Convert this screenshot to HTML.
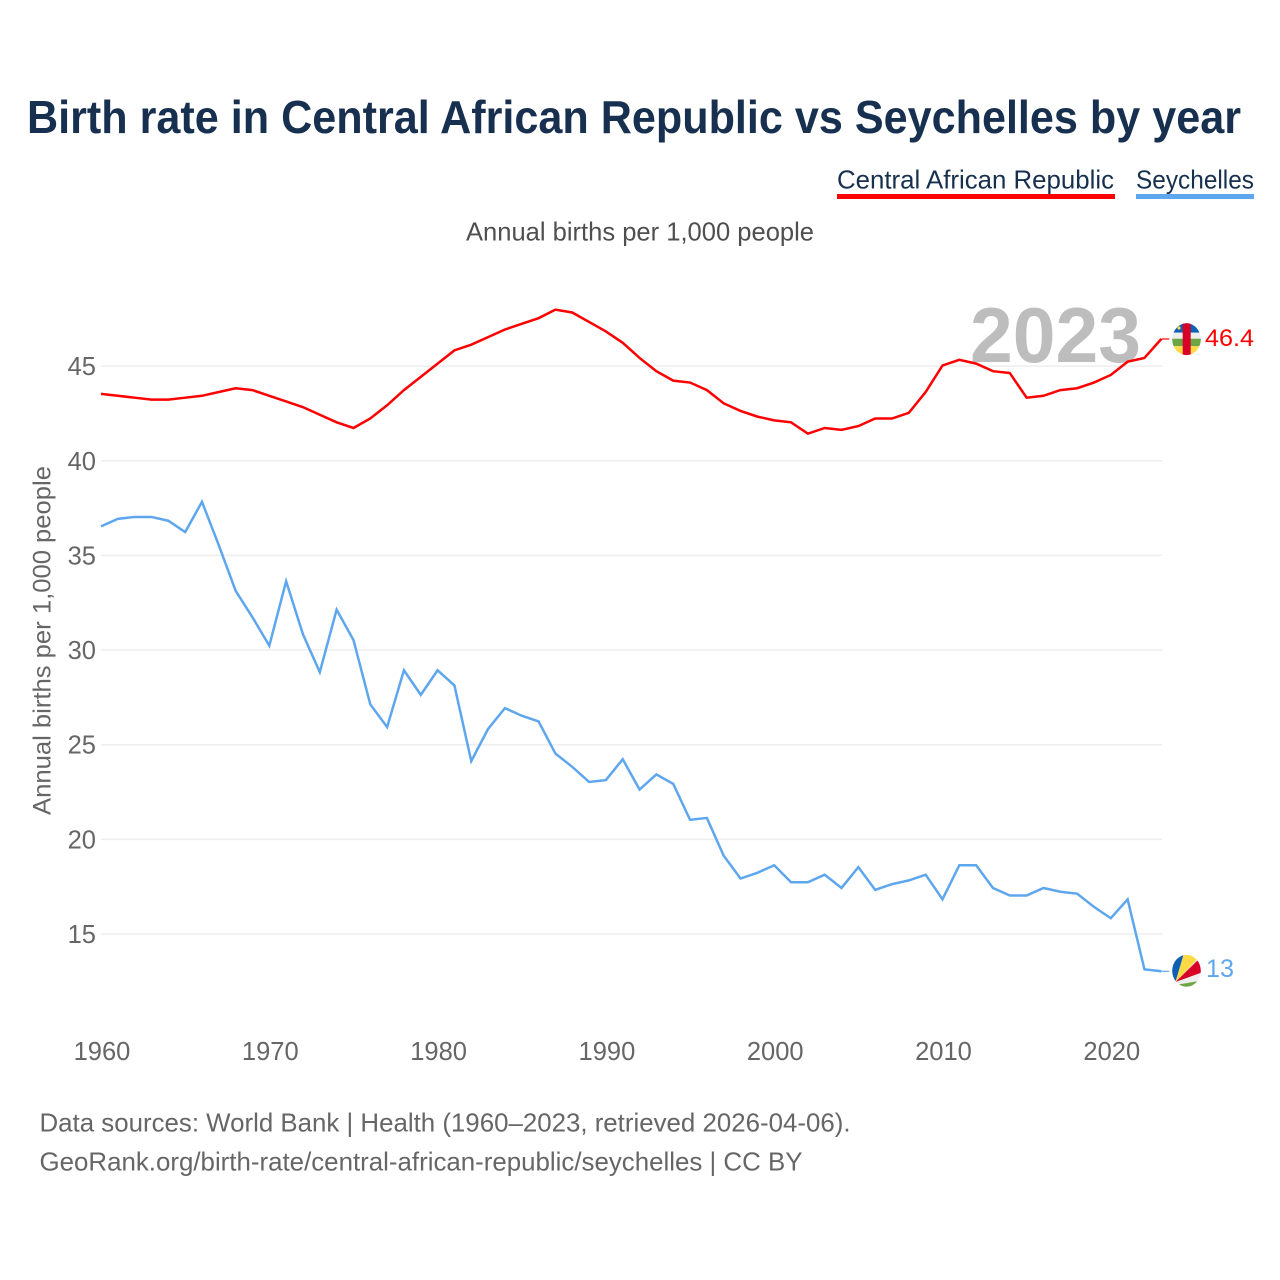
<!DOCTYPE html>
<html lang="en">
<head>
<meta charset="utf-8">
<title>Birth rate in Central African Republic vs Seychelles by year</title>
<style>
html,body{margin:0;padding:0;background:#fff;width:1280px;height:1280px;overflow:hidden}
svg{display:block}
text{font-family:"Liberation Sans",sans-serif}
</style>
</head>
<body>
<svg id="chart" xmlns="http://www.w3.org/2000/svg" width="1280" height="1280" viewBox="0 0 1280 1280">
  <defs>
    <clipPath id="car-clip"><ellipse cx="1186.5" cy="339.2" rx="14.3" ry="15.9"/></clipPath>
    <clipPath id="sey-clip"><ellipse cx="1186.5" cy="970.8" rx="14.3" ry="15.9"/></clipPath>
  </defs>
  <text x="27" y="133" font-size="46" font-weight="700" fill="#18304f" textLength="1214" lengthAdjust="spacingAndGlyphs">Birth rate in Central African Republic vs Seychelles by year</text>
  <g>
    <g>
      <text x="837" y="188.5" font-size="26" fill="#18304f" textLength="277" lengthAdjust="spacingAndGlyphs">Central African Republic</text>
      <rect x="837" y="194" width="278" height="5" fill="#ff0000"/>
    </g>
    <g>
      <text x="1136" y="188.5" font-size="26" fill="#18304f" textLength="118" lengthAdjust="spacingAndGlyphs">Seychelles</text>
      <rect x="1136" y="194" width="118" height="5" fill="#5ea6ee"/>
    </g>
  </g>
  <text x="466" y="240.5" font-size="26" fill="#4f4f4f" textLength="348" lengthAdjust="spacingAndGlyphs">Annual births per 1,000 people</text>
  <g id="grid"></g>
  <g id="yticks"></g>
  <g id="xticks"></g>
  <text transform="translate(50.5,815) rotate(-90)" x="0" y="0" font-size="25" fill="#666" textLength="349" lengthAdjust="spacingAndGlyphs">Annual births per 1,000 people</text>
  <text id="year-label" x="970" y="362" font-size="78" font-weight="700" fill="#bdbdbd" textLength="171" lengthAdjust="spacingAndGlyphs">2023</text>
  <g id="series" transform="translate(0,-0.6)"></g>
  <g clip-path="url(#car-clip)">
    <rect x="1170" y="322" width="33" height="10.7" fill="#0f5fb5"/>
    <rect x="1170" y="332.7" width="33" height="6" fill="#eeeeee"/>
    <rect x="1170" y="338.7" width="33" height="7.5" fill="#6da544"/>
    <rect x="1170" y="346.2" width="33" height="10" fill="#ffda44"/>
    <rect x="1182.7" y="322" width="8" height="34" fill="#d80027"/>
    <circle cx="1179" cy="328" r="1.6" fill="#ffda44"/>
  </g>
  <g clip-path="url(#sey-clip)">
    <rect x="1170" y="953" width="33" height="36" fill="#eeeeee"/>
    <polygon points="1175.5,982 1165,975 1165,950 1185,950" fill="#0f5fb5"/>
    <polygon points="1175.5,982 1185,950 1206,950" fill="#ffda44"/>
    <polygon points="1175.5,982 1204,954 1206,971" fill="#d80027"/>
    <polygon points="1175.5,985 1205,980 1205,995 1170,995" fill="#6da544"/>
  </g>
  <text id="car-value" x="1205" y="346" font-size="24" fill="#ff0000" textLength="49" lengthAdjust="spacingAndGlyphs"></text>
  <text id="sey-value" x="1206" y="977" font-size="25" fill="#5ea6ee" textLength="28" lengthAdjust="spacingAndGlyphs"></text>
  <text x="39.5" y="1131.5" font-size="26" fill="#666" textLength="811" lengthAdjust="spacingAndGlyphs">Data sources: World Bank | Health (1960–2023, retrieved 2026-04-06).</text>
  <text x="39.5" y="1170.5" font-size="26" fill="#666" textLength="763" lengthAdjust="spacingAndGlyphs">GeoRank.org/birth-rate/central-african-republic/seychelles | CC BY</text>
</svg>
<script>
const startYear = 1960;
const yTickValues = [15, 20, 25, 30, 35, 40, 45];
const xTickValues = [1960, 1970, 1980, 1990, 2000, 2010, 2020];
const carValues = [43.5,43.4,43.3,43.2,43.2,43.3,43.4,43.6,43.8,43.7,43.4,43.1,42.8,42.4,42.0,41.7,42.2,42.9,43.7,44.4,45.1,45.8,46.1,46.5,46.9,47.2,47.5,47.95,47.8,47.3,46.8,46.2,45.4,44.7,44.2,44.1,43.7,43.0,42.6,42.3,42.1,42.0,41.4,41.7,41.6,41.8,42.2,42.2,42.5,43.6,45.0,45.3,45.1,44.7,44.6,43.3,43.4,43.7,43.8,44.1,44.5,45.2,45.4,46.4];
const seyValues = [36.5,36.9,37.0,37.0,36.8,36.2,37.8,35.5,33.1,31.7,30.2,33.6,30.8,28.8,32.1,30.5,27.1,25.9,28.9,27.6,28.9,28.1,24.1,25.8,26.9,26.5,26.2,24.5,23.8,23.0,23.1,24.2,22.6,23.4,22.9,21.0,21.1,19.1,17.9,18.2,18.6,17.7,17.7,18.1,17.4,18.5,17.3,17.6,17.8,18.1,16.8,18.6,18.6,17.4,17.0,17.0,17.4,17.2,17.1,16.4,15.8,16.8,13.1,13.0];

const NS = 'http://www.w3.org/2000/svg';
const xScale = function (year) { return 101 + (year - 1960) * 16.83; };
const yScale = function (value) { return 934 - (value - 15) * 18.93; };

const grid = document.getElementById('grid');
const yticks = document.getElementById('yticks');
const xticks = document.getElementById('xticks');
const series = document.getElementById('series');

yTickValues.forEach(function (v) {
  const line = document.createElementNS(NS, 'line');
  
  
  line.setAttribute('x1', 101);
  line.setAttribute('x2', 1162);
  line.setAttribute('y1', yScale(v));
  line.setAttribute('y2', yScale(v));
  line.setAttribute('stroke', '#eeeeee');
  line.setAttribute('stroke-width', '1.5');
  grid.appendChild(line);

  const label = document.createElementNS(NS, 'text');
  
  
  label.setAttribute('x', 96);
  label.setAttribute('y', yScale(v) + 9);
  label.setAttribute('text-anchor', 'end');
  label.setAttribute('font-size', '25.5');
  label.setAttribute('fill', '#666');
  label.textContent = String(v);
  yticks.appendChild(label);
});

xTickValues.forEach(function (y) {
  const label = document.createElementNS(NS, 'text');
  
  
  label.setAttribute('x', xScale(y) + 1);
  label.setAttribute('y', 1060);
  label.setAttribute('text-anchor', 'middle');
  label.setAttribute('font-size', '25.5');
  label.setAttribute('fill', '#666');
  label.textContent = String(y);
  xticks.appendChild(label);
});

function toPoints(values) {
  return values.map(function (v, i) {
    return xScale(startYear + i).toFixed(2) + ',' + yScale(v).toFixed(2);
  }).join(' ');
}

const carLine = document.createElementNS(NS, 'polyline');


carLine.setAttribute('points', toPoints(carValues));
carLine.setAttribute('fill', 'none');
carLine.setAttribute('stroke', '#ff0000');
carLine.setAttribute('stroke-width', '2.5');
carLine.setAttribute('stroke-linejoin', 'miter');
series.appendChild(carLine);

const seyLine = document.createElementNS(NS, 'polyline');


seyLine.setAttribute('points', toPoints(seyValues));
seyLine.setAttribute('fill', 'none');
seyLine.setAttribute('stroke', '#5ea6ee');
seyLine.setAttribute('stroke-width', '2.5');
seyLine.setAttribute('stroke-linejoin', 'miter');
series.appendChild(seyLine);

const lastCar = carValues[carValues.length - 1];
const lastSey = seyValues[seyValues.length - 1];
const lastX = xScale(startYear + carValues.length - 1);

const carConnector = document.createElementNS(NS, 'line');


carConnector.setAttribute('x1', lastX);
carConnector.setAttribute('x2', lastX + 8);
carConnector.setAttribute('y1', yScale(lastCar));
carConnector.setAttribute('y2', yScale(lastCar));
carConnector.setAttribute('stroke', '#ff0000');
carConnector.setAttribute('stroke-width', '1.2');
series.appendChild(carConnector);

const seyConnector = document.createElementNS(NS, 'line');


seyConnector.setAttribute('x1', lastX);
seyConnector.setAttribute('x2', lastX + 8);
seyConnector.setAttribute('y1', yScale(lastSey));
seyConnector.setAttribute('y2', yScale(lastSey));
seyConnector.setAttribute('stroke', '#5ea6ee');
seyConnector.setAttribute('stroke-width', '1.2');
series.appendChild(seyConnector);

document.getElementById('car-value').textContent = String(lastCar);
document.getElementById('sey-value').textContent = String(lastSey);
</script>
</body>
</html>
